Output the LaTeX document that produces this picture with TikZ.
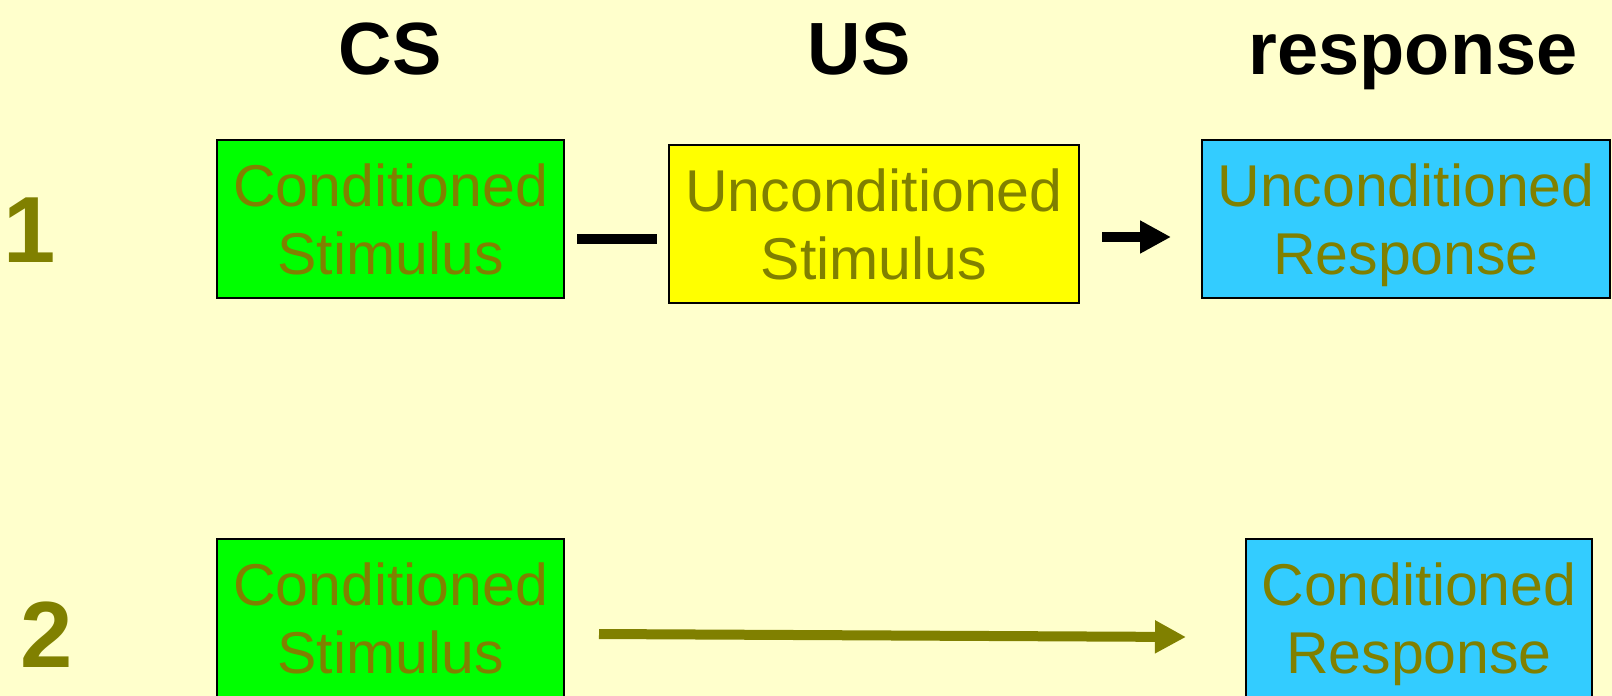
\documentclass[tikz,border=0pt]{standalone}
\usepackage{fontspec}
\setmainfont{Liberation Sans}
\usetikzlibrary{arrows.meta}
\definecolor{bgc}{HTML}{FFFFCC}
\definecolor{olivec}{HTML}{808000}
\definecolor{greenc}{HTML}{00FF00}
\definecolor{yellowc}{HTML}{FFFF00}
\definecolor{bluec}{HTML}{33CCFF}
\tikzset{
  box/.style={draw=black, line width=1.3pt, inner sep=0pt, minimum height=79pt,
    align=center, text=olivec, font=\fontsize{29.5}{34}\selectfont,
    text height=55.5pt, text depth=0pt},
  head/.style={anchor=base, font=\bfseries\fontsize{37}{40}\selectfont, text=black},
  rownum/.style={anchor=base, font=\bfseries\fontsize{47}{50}\selectfont, text=olivec},
  conn/.style={line width=5pt},
}
\begin{document}
\begin{tikzpicture}[x=0.5pt,y=-0.5pt]
\fill[bgc] (0,0) rectangle (1612,696);
\useasboundingbox (0,0) rectangle (1612,696);
% headers
\node[head] (hcs) at (390,74) {CS};
\node[head] (hus) at (859,74) {US};
\node[head] (hresp) at (1413,74) {response};
% row numbers
\node[rownum] (n1) at (30,262) {1};
\node[rownum] (n2) at (47,667) {2};
% row 1
\node[box, fill=greenc, minimum width=173.5pt] (cs1) at (390.5,219) {Conditioned\\Stimulus};
\node[box, fill=yellowc, minimum width=205pt] (us1) at (874,224) {Unconditioned\\Stimulus};
\node[box, fill=bluec, minimum width=204pt] (ur1) at (1406,219) {Unconditioned\\Response};
% row 2
\node[box, fill=greenc, minimum width=173.5pt] (cs2) at (390.5,618) {Conditioned\\Stimulus};
\node[box, fill=bluec, minimum width=173pt] (cr2) at (1419,618) {Conditioned\\Response};
% connectors
\coordinate (d1a) at (577,238.5);
\coordinate (d1b) at (657,238.5);
\draw[conn, black] (d1a) -- (d1b);
\coordinate (a1a) at (1102,237);
\coordinate (a1b) at (1171,237);
\draw[conn, black, -{Triangle[length=15.5pt,width=15.5pt]}] (a1a) -- (a1b);
\coordinate (a2a) at (599,634);
\coordinate (a2b) at (1186,637);
\draw[conn, olivec, -{Triangle[length=15.5pt,width=15.5pt]}] (a2a) -- (a2b);
\end{tikzpicture}
\end{document}
